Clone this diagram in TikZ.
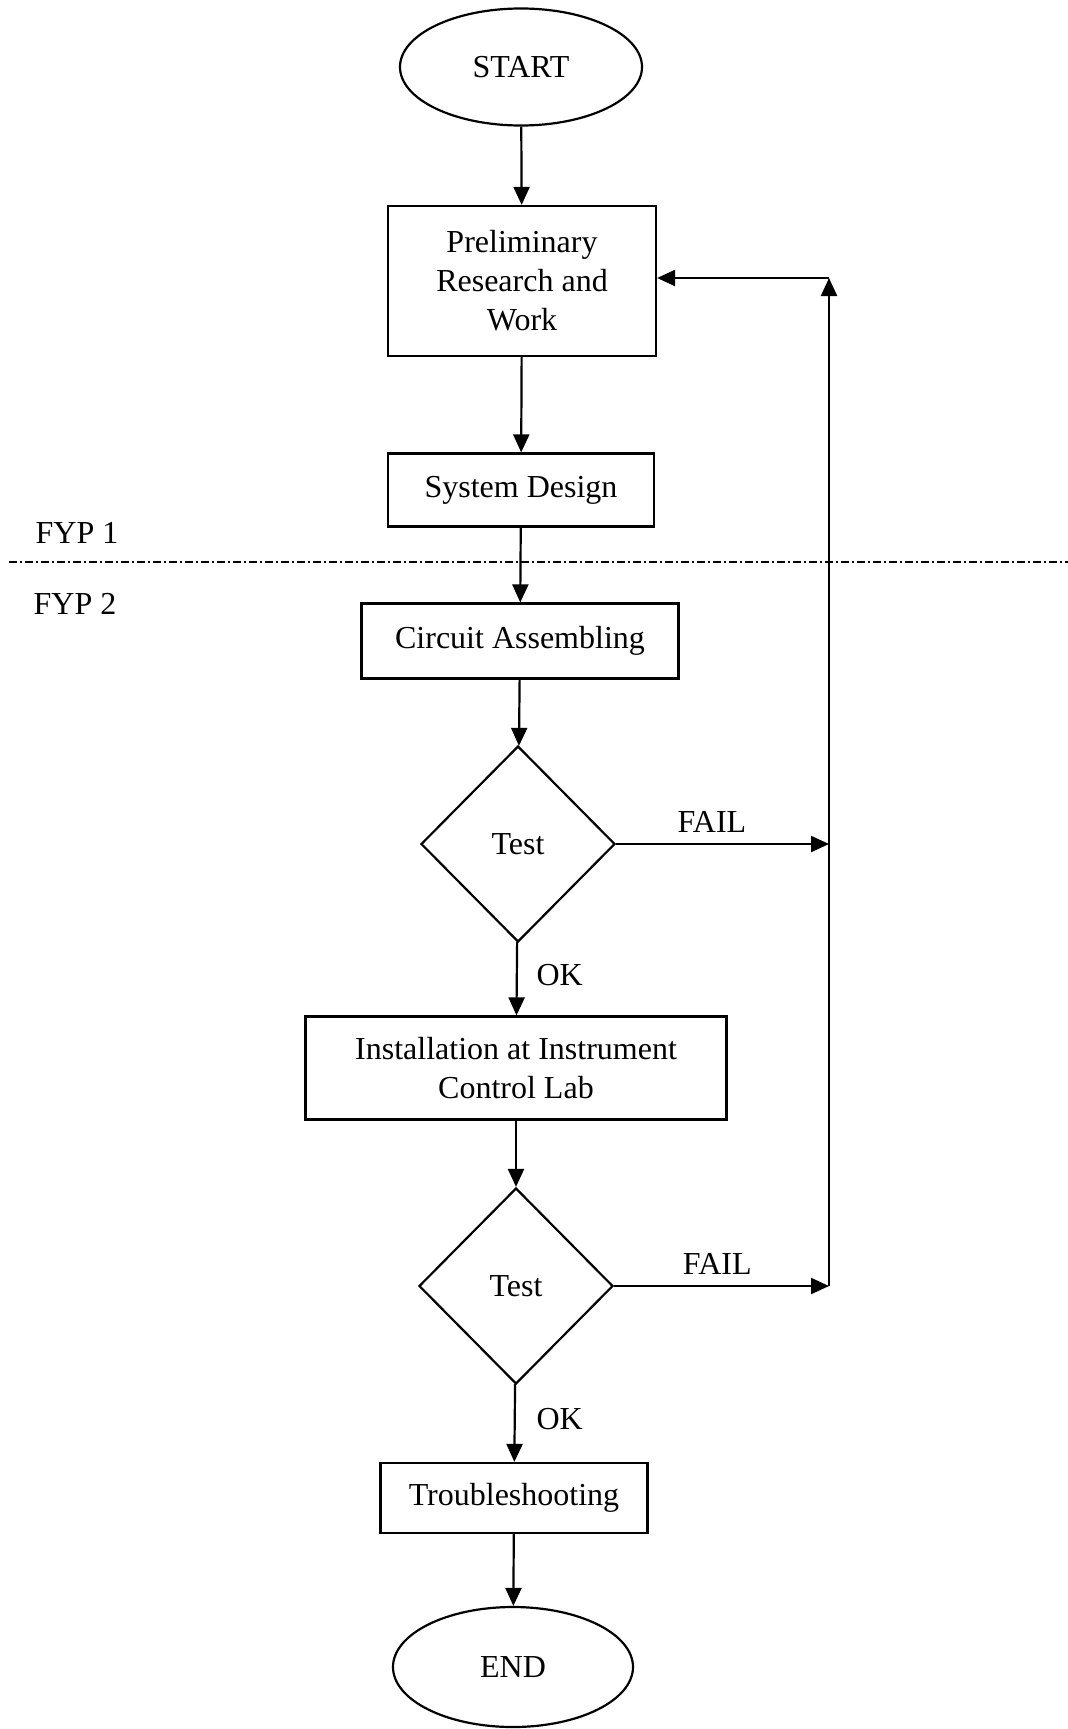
\documentclass[tikz,border=0pt]{standalone}
\usepackage{fontspec}
\setmainfont{Liberation Serif}
\usetikzlibrary{shapes.geometric,arrows.meta}

\begin{document}
\begin{tikzpicture}[x=0.5pt,y=-0.5pt,
  every node/.style={font=\fontsize{16}{19.5}\selectfont},
  term/.style={draw,ellipse,line width=1.1pt,inner sep=0pt},
  proc/.style={draw,rectangle,line width=1.1pt,align=center,inner sep=0pt},
  test/.style={draw,diamond,line width=1.1pt,inner sep=0pt,minimum width=97pt,minimum height=98pt},
  arr/.style={line width=1.1pt,-{Triangle[length=9pt,width=8pt]}},
  sep/.style={line width=0.8pt,dash pattern=on 4pt off 1.5pt on 1pt off 1.5pt}]
  \useasboundingbox (0,0) rectangle (1068,1729);

  \node[term,minimum width=121pt,minimum height=58.5pt] (start) at (521,67) {START};
  \node[proc,minimum width=134pt,minimum height=75pt] (research) at (522,281) {Preliminary\\Research and\\Work};
  \node[proc,minimum width=133pt,minimum height=36.5pt] (design) at (521,490) {System Design};
  \node[proc,minimum width=158.5pt,minimum height=37.5pt] (circuit) at (520,641) {Circuit Assembling};
  \node[test] (testA) at (518,844) {Test};
  \node[proc,minimum width=210.5pt,minimum height=51.5pt] (install) at (516,1068) {Installation at Instrument\\Control Lab};
  \node[test] (testB) at (516,1286) {Test};
  \node[proc,minimum width=133.5pt,minimum height=35pt] (trouble) at (514,1498) {Troubleshooting};
  \node[term,minimum width=120pt,minimum height=60pt] (finish) at (513,1667) {END};

  \draw[sep] (9,562) -- (1068,562);
  \node (fyp1) at (77,533) {FYP 1};
  \node (fyp2) at (75,604) {FYP 2};

  \coordinate (loopTop) at (829,278);
  \coordinate (loopBot) at (829,1286);

  \draw[arr] (start) -- (research);
  \draw[arr] (research) -- (design);
  \draw[arr] (design) -- (circuit);
  \draw[arr] (circuit) -- (testA);
  \draw[arr] (testA) -- (install) node[pos=0.45,right=6pt] (okA) {OK};
  \draw[arr] (install) -- (testB);
  \draw[arr] (testB) -- (trouble) node[pos=0.45,right=7pt] (okB) {OK};
  \draw[arr] (trouble) -- (finish);

  \draw[arr] (testA.east) -- (testA.east -| loopTop) node[pos=0.45,above=2pt] (failA) {FAIL};
  \draw[arr] (testB.east) -- (loopBot) node[pos=0.48,above=2pt] (failB) {FAIL};
  \draw[arr] (loopBot) -- (loopTop);
  \draw[arr] (loopTop) -- (loopTop -| research.east);
\end{tikzpicture}
\end{document}
